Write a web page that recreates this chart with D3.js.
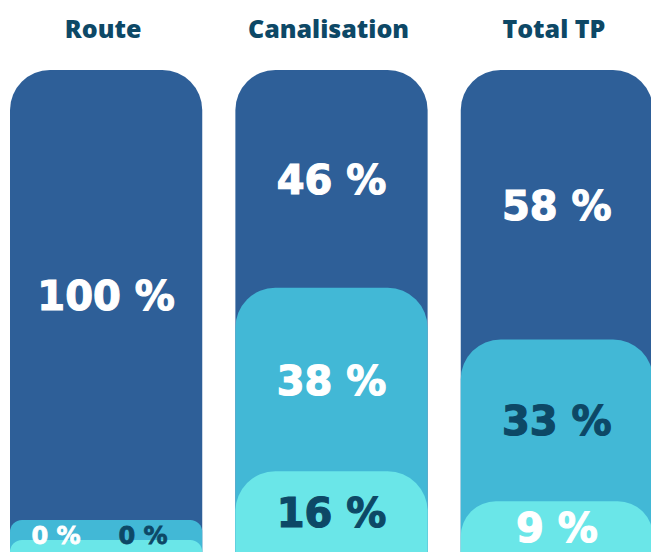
<!DOCTYPE html>
<html>
<head>
<meta charset="utf-8">
<script src="https://cdn.jsdelivr.net/npm/d3@7"></script>
<style>
  body { margin: 0; background: #fff; }
  svg { display: block; }
</style>
</head>
<body>
<script>
//Width and height
var w = 651;
var h = 552;

//Data
var categories = ["Route", "Canalisation", "Total TP"];
var segments = ["a", "b", "c"];          // top to bottom
var valuesA = [100, 46, 58];
var valuesB = [0, 38, 33];
var valuesC = [0, 16, 9];

//Styles
var colors = { a: "#2e5f98", b: "#42b8d6", c: "#6ae6e8" };
var darkText = "#0d4866";
// label colour per column, per segment
var labelColors = [
    ["#fff", "#fff", darkText],
    ["#fff", "#fff", darkText],
    ["#fff", darkText, "#fff"]
];

var topY = 70, bottomY = 560, minH = 20;

var xScale = d3.scaleBand()
    .domain(categories)
    .range([10, 653])
    .paddingInner(0.147);

var hScale = d3.scaleLinear()
    .domain([0, 100])
    .range([0, (bottomY - topY) - 3 * minH]);

//Build stacked layout from bottom up
var cols = categories.map(function(cat, i) {
    var vals = [valuesA[i], valuesB[i], valuesC[i]];
    var y = bottomY;
    var segs = [];
    for (var j = 2; j >= 0; j--) {
        var hh = hScale(vals[j]) + minH;
        y -= hh;
        segs.unshift({ key: segments[j], value: vals[j], y: y, h: hh, col: i, idx: j });
    }
    return { cat: cat, segs: segs };
});

var svg = d3.select("body")
    .append("svg")
    .attr("width", w)
    .attr("height", h);

//Titles
svg.selectAll("text.title")
    .data(categories)
    .enter()
    .append("text")
    .attr("class", "title")
    .attr("x", function(d) { return xScale(d) + xScale.bandwidth() / 2 - 3; })
    .attr("y", 38)
    .attr("text-anchor", "middle")
    .attr("font-family", "'Open Sans', Lato, sans-serif")
    .attr("font-weight", 800)
    .attr("font-size", 25)
    .attr("fill", darkText)
    .text(function(d) { return d; });

var g = svg.selectAll("g.col")
    .data(cols)
    .enter()
    .append("g")
    .attr("class", "col")
    .attr("transform", function(d) { return "translate(" + xScale(d.cat) + ",0)"; });

//Segments drawn top to bottom so lower ones overlap
g.selectAll("rect")
    .data(function(d) { return d.segs; })
    .enter()
    .append("rect")
    .attr("x", 0)
    .attr("y", function(d) { return d.y; })
    .attr("width", xScale.bandwidth())
    .attr("height", function(d) { return bottomY + 60 - d.y; })
    .attr("rx", function(d) { return Math.min(40, d.h * 0.6); })
    .attr("fill", function(d) { return colors[d.key]; });

//Labels
g.selectAll("text")
    .data(function(d) { return d.segs; })
    .enter()
    .append("text")
    .attr("x", function(d) {
        var c = xScale.bandwidth() / 2;
        if (d.value === 0) return d.idx === 1 ? c - 50 : c + 37;
        return c;
    })
    .attr("y", function(d) {
        if (d.value === 0) return 544;
        var yEnd = d.idx === 2 ? h : d.y + d.h;
        return (d.y + yEnd) / 2 + 15;
    })
    .attr("text-anchor", "middle")
    .attr("font-family", "'DejaVu Sans', sans-serif")
    .attr("font-weight", "bold")
    .attr("font-size", function(d) { return d.value === 0 ? 24 : 40; })
    .attr("fill", function(d) { return labelColors[d.col][d.idx]; })
    .attr("stroke", function(d) { return labelColors[d.col][d.idx]; })
    .attr("stroke-width", function(d) { return d.value === 0 ? 0.8 : 1.2; })
    .text(function(d) { return d.value + " %"; });
</script>
</body>
</html>
